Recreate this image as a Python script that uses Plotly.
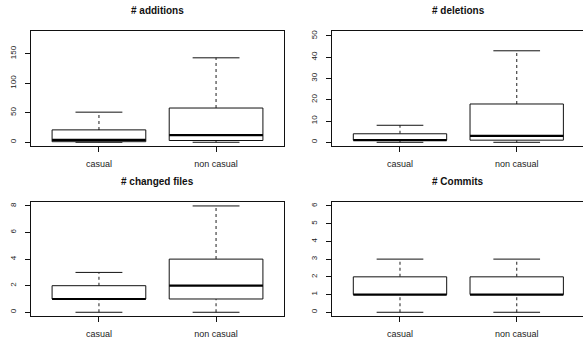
import plotly.graph_objects as go

W, H = 583, 343

groups = ["casual", "non casual"]
titles = ["# additions", "# deletions", "# changed files", "# Commits"]

# five-number summaries per panel: [lower whisker, q1, median, q3, upper whisker]
additions_casual = [0, 1, 4, 21, 51]
additions_noncasual = [0, 3, 12, 58, 143]
deletions_casual = [0, 1, 1, 4, 8]
deletions_noncasual = [0, 1, 3, 18, 43]
files_casual = [0, 1, 1, 2, 3]
files_noncasual = [0, 1, 2, 4, 8]
commits_casual = [0, 1, 1, 2, 3]
commits_noncasual = [0, 1, 1, 2, 3]

panels_data = [
    (additions_casual, additions_noncasual),
    (deletions_casual, deletions_noncasual),
    (files_casual, files_noncasual),
    (commits_casual, commits_noncasual),
]
ytick_vals = [
    [0, 50, 100, 150],
    [0, 10, 20, 30, 40, 50],
    [0, 2, 4, 6, 8],
    [0, 1, 2, 3, 4, 5, 6],
]
y_ranges = [[-6.3, 188.4], [-1.74, 52.3], [-0.28, 8.32], [-0.21, 6.24]]

# panel pixel boxes (left, right, top, bottom)
boxes_px = [(31, 284, 31, 146), (332.3, 583, 31, 146),
            (31, 284, 201.7, 316), (332.3, 583, 201.7, 316)]
x_ranges = [[0.42, 2.58], [0.42, 2.568], [0.42, 2.58], [0.42, 2.568]]

BOXW = 0.8
CAPW = 0.4

fig = go.Figure()
layout = dict(width=W, height=H, margin=dict(l=0, r=0, t=0, b=0),
              paper_bgcolor="white", plot_bgcolor="white", showlegend=False,
              font=dict(family="Liberation Sans, Arial, sans-serif", color="#111"))
annotations = []

for i, (data, title) in enumerate(zip(panels_data, titles)):
    n = i + 1
    xa = "x" if n == 1 else f"x{n}"
    ya = "y" if n == 1 else f"y{n}"
    for gi, st in enumerate(data):
        c = gi + 1
        lo, q1, med, q3, hi = st
        # whiskers (dashed)
        fig.add_trace(go.Scatter(x=[c, c, None, c, c], y=[lo, q1, None, q3, hi],
                                 mode="lines", xaxis=xa, yaxis=ya,
                                 line=dict(color="#444", width=1.2, dash="3px,3px"),
                                 hoverinfo="skip"))
        # caps
        fig.add_trace(go.Scatter(x=[c - CAPW / 2, c + CAPW / 2, None, c - CAPW / 2, c + CAPW / 2],
                                 y=[lo, lo, None, hi, hi], mode="lines", xaxis=xa, yaxis=ya,
                                 line=dict(color="#111", width=1), hoverinfo="skip"))
        # box
        fig.add_trace(go.Scatter(x=[c - BOXW / 2, c + BOXW / 2, c + BOXW / 2, c - BOXW / 2, c - BOXW / 2],
                                 y=[q1, q1, q3, q3, q1], mode="lines", xaxis=xa, yaxis=ya,
                                 fill="toself", fillcolor="white",
                                 line=dict(color="#111", width=1), hoverinfo="skip"))
        # median
        fig.add_trace(go.Scatter(x=[c - BOXW / 2, c + BOXW / 2], y=[med, med], mode="lines",
                                 xaxis=xa, yaxis=ya, line=dict(color="#000", width=2.2),
                                 hoverinfo="skip"))

    l, r, t, b = boxes_px[i]
    right_panel = n in (2, 4)
    xkey = "xaxis" if n == 1 else f"xaxis{n}"
    ykey = "yaxis" if n == 1 else f"yaxis{n}"
    layout[xkey] = dict(domain=[l / W, r / W], range=x_ranges[i], anchor=ya,
                        tickvals=[1, 2], ticktext=groups, ticks="outside", ticklen=5,
                        tickcolor="#111", showgrid=False, zeroline=False,
                        showline=True, linecolor="#111", linewidth=1, mirror=True,
                        tickfont=dict(size=9, color="#222"), ticklabelstandoff=4,
                        fixedrange=True)
    layout[ykey] = dict(domain=[1 - b / H, 1 - t / H], range=y_ranges[i], anchor=xa,
                        tickvals=ytick_vals[i], ticks="outside", ticklen=5,
                        tickcolor="#111", showgrid=False, zeroline=False,
                        showline=True, linecolor="#111", linewidth=1,
                        mirror=False if right_panel else True,
                        tickangle=-90, tickfont=dict(size=8, color="#222"),
                        ticklabelstandoff=6, fixedrange=True)
    annotations.append(dict(text=f"<b>{title}</b>", x=(l + (584.4 if right_panel else r)) / 2 / W,
                            y=1 - (11 if t < 100 else 181) / H, xref="paper", yref="paper",
                            showarrow=False, xanchor="center", yanchor="middle",
                            font=dict(size=10, color="#111")))

layout["annotations"] = annotations
fig.update_layout(**layout)
fig.write_html("out.html", config={"displayModeBar": False},
               post_script="document.body.style.margin='0';document.body.style.overflow='hidden';")
